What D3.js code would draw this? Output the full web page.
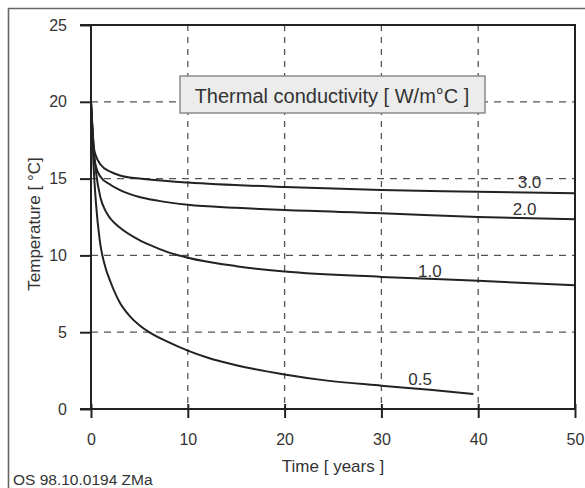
<!DOCTYPE html>
<html><head><meta charset="utf-8">
<script src="https://cdn.jsdelivr.net/npm/d3@7"></script>
<style>
html,body{margin:0;padding:0;background:#fff;}
text{font-family:"Liberation Sans",Arial,sans-serif;fill:#333;}
</style></head>
<body><svg id="c" width="585" height="488"></svg>
<script>
// Data
const xTicks = [0, 10, 20, 30, 40, 50];
const yTicks = [0, 5, 10, 15, 20, 25];
const seriesNames = ["3.0", "2.0", "1.0", "0.5"];
const t30 = [0, 0.3, 0.5, 1, 2, 3, 5, 10, 20, 30, 40, 50];
const v30 = [20, 17, 16.5, 15.9, 15.45, 15.2, 15.0, 14.75, 14.45, 14.25, 14.15, 14.05];
const t20 = [0, 0.3, 0.5, 1, 2, 3, 5, 7, 10, 15, 20, 30, 40, 50];
const v20 = [20, 16.6, 15.8, 15.1, 14.6, 14.25, 13.8, 13.55, 13.3, 13.1, 12.95, 12.75, 12.5, 12.35];
const t10 = [0, 0.3, 0.5, 1, 1.5, 2, 3, 5, 6, 8, 10, 15, 20, 30, 40, 50];
const v10 = [20, 16.8, 15.5, 13.7, 12.9, 12.4, 11.8, 11.0, 10.7, 10.2, 9.85, 9.3, 8.95, 8.6, 8.35, 8.05];
const t05 = [0, 0.25, 0.5, 0.9, 1.5, 2, 3, 4, 5, 6, 8, 10, 12, 15, 20, 24, 30, 35, 39.5];
const v05 = [20, 16, 13.5, 11, 9.2, 8.3, 6.9, 6.05, 5.45, 5.0, 4.35, 3.8, 3.35, 2.85, 2.25, 1.88, 1.52, 1.25, 0.98];
const labelPos = [[45.3, 14.4], [44.8, 12.6], [35, 8.6], [34, 1.55]];
const legendTitle = "Thermal conductivity [ W/m°C ]";
const xTitle = "Time [ years ]";
const yTitle = "Temperature [ °C]";
const footer = "OS 98.10.0194 ZMa";

const series = [[t30, v30], [t20, v20], [t10, v10], [t05, v05]];
const svg = d3.select("#c");
const x = d3.scaleLinear().domain([0, 50]).range([91, 575]);
const y = d3.scaleLinear().domain([0, 25]).range([409, 25]);

// outer frame
svg.append("path").attr("d", "M8.5,488 V8.5 H585").attr("fill", "none")
  .attr("stroke", "#666").attr("stroke-width", 1.6);

// grid
const g = svg.append("g");
g.selectAll(".vg").data(xTicks.slice(1, -1)).join("line")
  .attr("x1", d => x(d)).attr("x2", d => x(d)).attr("y1", y(25)).attr("y2", y(0))
  .attr("stroke", "#555").attr("stroke-width", 1.3).attr("stroke-dasharray", "6,6");
g.selectAll(".hg").data(yTicks.slice(1, -1)).join("line")
  .attr("x1", x(0)).attr("x2", x(50)).attr("y1", d => y(d)).attr("y2", d => y(d))
  .attr("stroke", "#555").attr("stroke-width", 1.3).attr("stroke-dasharray", "7,6");

// legend box
svg.append("rect").attr("x", 180).attr("y", 76).attr("width", 305).attr("height", 37)
  .attr("fill", "#ececec").attr("stroke", "#8a8a8a").attr("stroke-width", 1.5);
svg.append("text").attr("x", 332).attr("y", 103).attr("text-anchor", "middle")
  .style("font-size", "20px").text(legendTitle);

// axes
const xAxis = svg.append("g").attr("transform", `translate(0,${y(0)})`)
  .call(d3.axisBottom(x).tickValues(xTicks).tickSize(9).tickPadding(16));
xAxis.selectAll(".tick line").attr("y1", -5);
const yAxis = svg.append("g").attr("transform", `translate(${x(0)},0)`)
  .call(d3.axisLeft(y).tickValues(yTicks).tickSize(11).tickPadding(13));
[xAxis, yAxis].forEach(a => {
  a.select(".domain").remove();
  a.selectAll(".tick line").attr("stroke", "#222").attr("stroke-width", 2);
  a.selectAll("text").style("font-size", "16px").attr("fill", "#333").style("font-family", '"Liberation Sans",Arial,sans-serif');
});
// plot frame lines
svg.append("rect").attr("x", x(0)).attr("y", y(25)).attr("width", x(50) - x(0)).attr("height", y(0) - y(25))
  .attr("fill", "none").attr("stroke", "#222").attr("stroke-width", 2);
svg.append("line").attr("x1", 80).attr("x2", x(0)).attr("y1", y(25)).attr("y2", y(25)).attr("stroke", "#222").attr("stroke-width", 2);
svg.append("line").attr("x1", 80).attr("x2", x(0)).attr("y1", y(0)).attr("y2", y(0)).attr("stroke", "#222").attr("stroke-width", 2);

// curves
const line = d3.line().x(d => x(d[0])).y(d => y(d[1])).curve(d3.curveMonotoneX);
series.forEach(([ts, vs]) => {
  svg.append("path").datum(ts.map((t, i) => [t, vs[i]])).attr("d", line)
    .attr("fill", "none").attr("stroke", "#222").attr("stroke-width", 2);
});
seriesNames.forEach((n, i) => {
  svg.append("text").attr("x", x(labelPos[i][0])).attr("y", y(labelPos[i][1]))
    .attr("text-anchor", "middle").style("font-size", "17px").text(n);
});

// titles
svg.append("text").attr("x", 333).attr("y", 472).attr("text-anchor", "middle")
  .style("font-size", "17px").text(xTitle);
svg.append("text").attr("transform", "translate(40,224) rotate(-90)").attr("text-anchor", "middle")
  .style("font-size", "17px").text(yTitle);
svg.append("text").attr("x", 13).attr("y", 485).style("font-size", "15.5px").text(footer);
</script></body></html>
